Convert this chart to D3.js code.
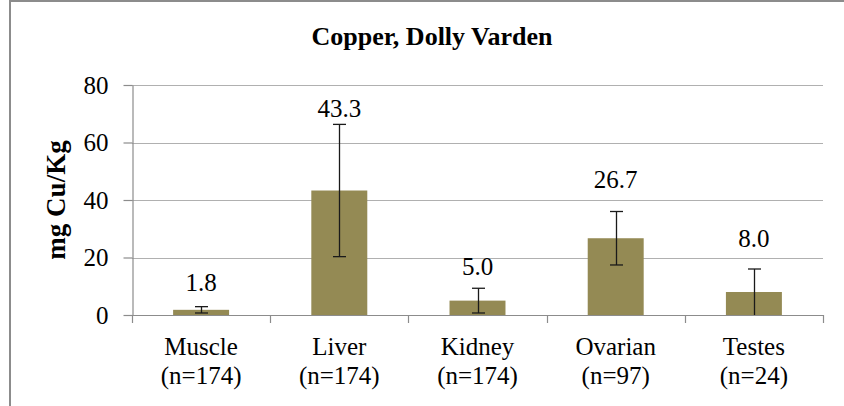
<!DOCTYPE html>
<html>
<head>
<meta charset="utf-8">
<script src="https://cdn.jsdelivr.net/npm/d3@7"></script>
<style>
  html, body { margin: 0; padding: 0; background: #fff; }
  svg { display: block; }
</style>
</head>
<body>
<div id="chart"></div>
<script>
// Copper concentration by tissue, Dolly Varden
const categories = ["Muscle", "Liver", "Kidney", "Ovarian", "Testes"];
const sampleSizes = ["(n=174)", "(n=174)", "(n=174)", "(n=97)", "(n=24)"];
const means = [1.8, 43.3, 5.0, 26.7, 8.0];
const errors = [1.1, 23.0, 4.3, 9.3, 8.0];
const yTicks = [0, 20, 40, 60, 80];

const FONT = "Liberation Serif";
const W = 844, H = 406;
const plot = { left: 132, right: 823, top: 85, bottom: 315 };

const svg = d3.select("#chart").append("svg")
  .attr("width", W).attr("height", H);

// chart area frame (runs past the right and bottom edges)
svg.append("rect")
  .attr("x", 10).attr("y", 1)
  .attr("width", W + 20).attr("height", H + 20)
  .attr("fill", "#fff")
  .attr("stroke", "#8c8c8c").attr("stroke-width", 2);

const x = d3.scaleBand().domain(categories).range([plot.left, plot.right]).padding(0);
const y = d3.scaleLinear().domain([0, 80]).range([plot.bottom, plot.top]);

// gridlines
svg.append("g").selectAll("line")
  .data(yTicks.filter(d => d !== 0))
  .join("line")
  .attr("x1", plot.left).attr("x2", plot.right)
  .attr("y1", d => Math.round(y(d)) + 0.5).attr("y2", d => Math.round(y(d)) + 0.5)
  .attr("stroke", "#b0b0b0").attr("stroke-width", 1.2);

// y axis
const yAxis = svg.append("g")
  .attr("transform", `translate(${plot.left + 0.5},0)`)
  .call(d3.axisLeft(y).tickValues(yTicks).tickSize(9).tickPadding(15).tickSizeOuter(0));
yAxis.attr("font-family", null).attr("font-size", null);
yAxis.select(".domain").attr("stroke", "#8c8c8c").attr("stroke-width", 1.2);
yAxis.selectAll(".tick line").attr("stroke", "#8c8c8c").attr("stroke-width", 1.2);
yAxis.selectAll(".tick text")
  .style("font-family", FONT)
  .style("font-size", "25px").attr("fill", "#000");

// bars
const barW = x.bandwidth() * 0.405;
svg.append("g").selectAll("rect")
  .data(categories)
  .join("rect")
  .attr("x", (d) => x(d) + (x.bandwidth() - barW) / 2)
  .attr("width", barW)
  .attr("y", (d, i) => y(means[i]))
  .attr("height", (d, i) => y(0) - y(means[i]))
  .attr("fill", "#948a54");

// x axis with boundary ticks
const xAxisG = svg.append("g");
xAxisG.append("line")
  .attr("x1", plot.left).attr("x2", plot.right + 0.5)
  .attr("y1", plot.bottom + 0.5).attr("y2", plot.bottom + 0.5)
  .attr("stroke", "#8c8c8c").attr("stroke-width", 1.2);
const bounds = categories.map(d => x(d)).concat([x(categories[categories.length - 1]) + x.bandwidth()]);
xAxisG.selectAll("line.bound")
  .data(bounds)
  .join("line").attr("class", "bound")
  .attr("x1", d => Math.round(d) + 0.5).attr("x2", d => Math.round(d) + 0.5)
  .attr("y1", plot.bottom).attr("y2", plot.bottom + 8)
  .attr("stroke", "#8c8c8c").attr("stroke-width", 1.2);

// error bars
const cap = 6.5;
const eb = svg.append("g").attr("stroke", "#1a1a1a").attr("stroke-width", 1.3);
categories.forEach((c, i) => {
  const cx = Math.round(x(c) + x.bandwidth() / 2) + 0.5;
  const hi = y(means[i] + errors[i]);
  const lo = y(Math.max(0, means[i] - errors[i]));
  eb.append("line").attr("x1", cx).attr("x2", cx).attr("y1", hi).attr("y2", lo);
  eb.append("line").attr("x1", cx - cap).attr("x2", cx + cap).attr("y1", hi).attr("y2", hi);
  if (means[i] - errors[i] > 0) {
    eb.append("line").attr("x1", cx - cap).attr("x2", cx + cap).attr("y1", lo).attr("y2", lo);
  }
});

// value labels, lifted above each error bar
const labelLift = [16, 7, 13, 24, 22];
svg.append("g").selectAll("text")
  .data(categories)
  .join("text")
  .attr("x", d => x(d) + x.bandwidth() / 2)
  .attr("y", (d, i) => y(means[i] + errors[i]) - labelLift[i])
  .attr("text-anchor", "middle")
  .style("font-family", FONT).style("font-size", "25px")
  .attr("fill", "#000")
  .text((d, i) => means[i].toFixed(1));

// category labels
const catG = svg.append("g");
categories.forEach((c, i) => {
  const cx = x(c) + x.bandwidth() / 2;
  const t = catG.append("text")
    .attr("text-anchor", "middle")
    .style("font-family", FONT).style("font-size", "25px")
    .attr("fill", "#000");
  t.append("tspan").attr("x", cx).attr("y", 355).text(c);
  t.append("tspan").attr("x", cx).attr("y", 384).text(sampleSizes[i]);
});

// title
svg.append("text")
  .attr("x", 432).attr("y", 45)
  .attr("text-anchor", "middle")
  .style("font-family", FONT).style("font-size", "26px").style("font-weight", "bold")
  .attr("fill", "#000")
  .text("Copper, Dolly Varden");

// y axis title
svg.append("text")
  .attr("transform", "translate(65,200) rotate(-90)")
  .attr("text-anchor", "middle")
  .style("font-family", FONT).style("font-size", "27px").style("font-weight", "bold")
  .attr("fill", "#000")
  .text("mg Cu/Kg");
</script>
</body>
</html>
